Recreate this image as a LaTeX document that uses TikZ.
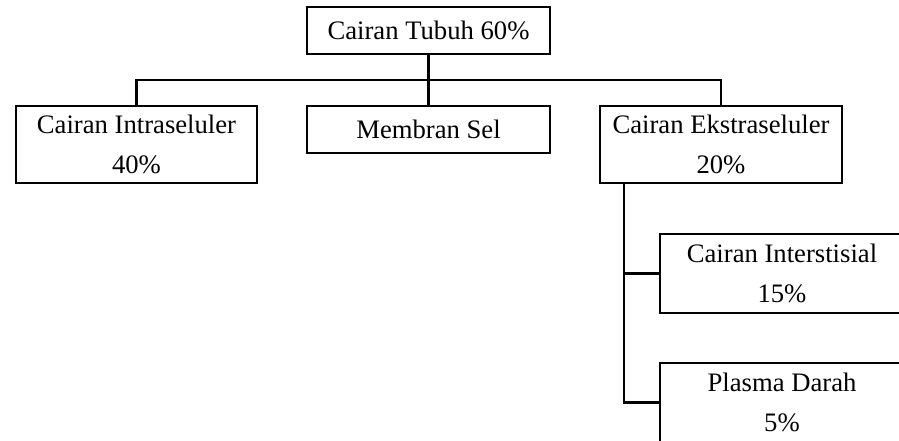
\documentclass[tikz,border=0pt]{standalone}
\usepackage{fontspec}
\setmainfont{Liberation Serif}
\begin{document}
\begin{tikzpicture}[x=0.75pt,y=-0.75pt,
  box/.style={draw,line width=1.9pt,inner sep=0pt,align=center,font=\fontsize{20}{30}\selectfont},
  conn/.style={line width=1.9pt}]
\useasboundingbox (0,0) rectangle (899,441);
\clip (0,0) rectangle (899,441);
\node[box,minimum width=243*0.75pt,minimum height=47*0.75pt] (top) at (428.5,30.5) {Cairan Tubuh 60\%};
\node[box,minimum width=241*0.75pt,minimum height=77*0.75pt] (intra) at (136.5,144.5) {Cairan Intraseluler\\40\%};
\node[box,minimum width=243*0.75pt,minimum height=47*0.75pt] (mem) at (428.5,129.5) {Membran Sel};
\node[box,minimum width=242*0.75pt,minimum height=77*0.75pt] (ekstra) at (721,144.5) {Cairan Ekstraseluler\\20\%};
\node[box,minimum width=244*0.75pt,minimum height=79*0.75pt] (inter) at (782,273.5) {Cairan Interstisial\\15\%};
\node[box,minimum width=244*0.75pt,minimum height=79*0.75pt] (plasma) at (782,402.5) {Plasma Darah\\5\%};
\coordinate (bar) at (428.5,80);
\coordinate (spine) at (624,183);
\draw[conn] (top.south) -- (mem.north);
\draw[conn] (intra.north) -- (intra.north |- bar) -- (ekstra.north |- bar) -- (ekstra.north);
\draw[conn] (spine |- ekstra.south) -- (spine |- plasma.west) -- (plasma.west);
\draw[conn] (spine |- inter.west) -- (inter.west);
\end{tikzpicture}
\end{document}
